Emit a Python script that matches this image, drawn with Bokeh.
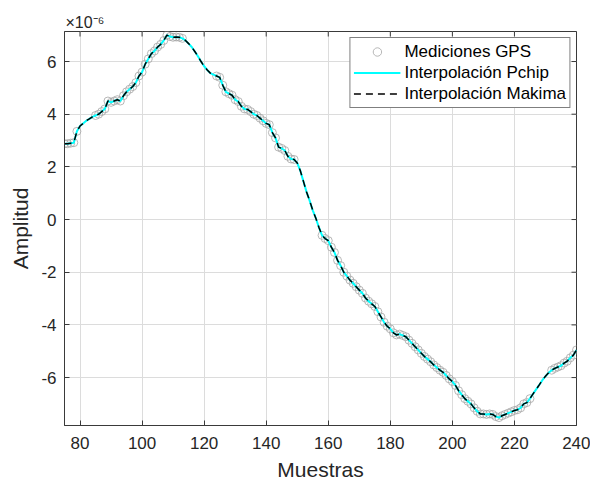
import math
from bokeh.plotting import figure
from bokeh.models import FixedTicker, Range1d, Legend, LegendItem, Title
from bokeh.embed import file_html
from bokeh.resources import INLINE

# ---- data (amplitude in units of 1e-6) ----
muestras_gps = [75, 76, 77, 78, 79,
                85, 86, 87, 88, 89, 90, 91, 92, 93, 94, 95, 96, 97, 98, 99, 100,
                101, 102, 103, 104, 105, 106, 107, 108, 109, 110, 111, 112, 113,
                124, 125, 126, 127, 128, 129, 130, 131, 132, 133, 134, 135, 136, 137,
                138, 139, 140, 141, 142, 143, 144, 145, 146, 147, 148, 149,
                158, 159, 160, 161, 162, 163, 164, 165, 166, 167, 168, 169, 170, 171,
                172, 173, 174, 175, 176, 177, 178, 179, 180, 181, 182, 183, 184, 185,
                186, 187, 188, 189, 190, 191, 192, 193, 194, 195, 196, 197, 198, 199,
                200, 201, 202, 203, 204, 205, 206, 207, 208, 209, 210, 211, 212, 213,
                214, 215, 216, 217, 218, 219, 220, 221, 222, 223, 224, 225,
                232, 233, 234, 235, 236, 237, 238, 239, 240]
amplitud_gps = [2.88, 2.88, 2.90, 2.92, 3.35,
                3.95, 4.00, 4.10, 4.20, 4.50, 4.45, 4.50, 4.55, 4.50, 4.70, 4.85, 4.95, 5.05, 5.20, 5.45, 5.60,
                5.90, 6.10, 6.30, 6.40, 6.55, 6.65, 6.80, 7.00, 6.95, 6.92, 6.93, 6.92, 6.88,
                5.45, 5.40, 5.10, 4.85, 4.78, 4.72, 4.55, 4.48, 4.30, 4.20, 4.18, 4.10, 4.00, 3.95,
                3.85, 3.75, 3.65, 3.60, 3.30, 3.10, 2.75, 2.70, 2.62, 2.40, 2.30, 2.28,
                -0.60, -0.72, -0.80, -1.05, -1.25, -1.55, -1.75, -2.00, -2.15, -2.30, -2.42, -2.55, -2.68, -2.80,
                -2.98, -3.10, -3.20, -3.30, -3.50, -3.70, -3.90, -4.05, -4.15, -4.30, -4.38, -4.35, -4.40, -4.45,
                -4.58, -4.70, -4.83, -4.95, -5.08, -5.20, -5.30, -5.40, -5.52, -5.62, -5.72, -5.80, -5.92, -6.05,
                -6.15, -6.30, -6.50, -6.65, -6.80, -6.90, -7.00, -7.15, -7.28, -7.38, -7.38, -7.40, -7.38, -7.40,
                -7.48, -7.52, -7.45, -7.40, -7.35, -7.30, -7.25, -7.22, -7.15, -7.00, -6.95, -6.80,
                -5.72, -5.65, -5.60, -5.55, -5.45, -5.38, -5.25, -5.15, -4.95]

# interpolated curve values read in the gaps between measurements
muestras_hueco = [80, 81, 82, 83, 84,
                  114, 115, 116, 117, 118, 119, 120, 121, 122, 123,
                  150, 151, 152, 153, 154, 155, 156, 157,
                  226, 227, 228, 229, 230, 231]
amplitud_hueco = [3.55, 3.65, 3.75, 3.82, 3.90,
                  6.80, 6.68, 6.55, 6.38, 6.20, 6.00, 5.82, 5.68, 5.56, 5.50,
                  2.15, 1.85, 1.45, 1.05, 0.72, 0.35, 0.05, -0.30,
                  -6.62, -6.45, -6.28, -6.10, -5.95, -5.82]

x_ticks = [80, 100, 120, 140, 160, 180, 200, 220, 240]
y_ticks = [-6, -4, -2, 0, 2, 4, 6]
y_tick_labels = ["-6", "-4", "-2", "0", "2", "4", "6"]

curva = sorted(zip(muestras_gps + muestras_hueco, amplitud_gps + amplitud_hueco))
curva_x = [c[0] for c in curva]
curva_y = [c[1] for c in curva]

X_MIN, X_MAX = 75, 240
Y_MIN, Y_MAX = -7.82, 7.14

FONT = "Liberation Sans"
TXT = "#262626"
AX = "#3a3a3a"

p = figure(frame_width=512, frame_height=394, output_backend="svg", toolbar_location=None,
           x_range=Range1d(X_MIN, X_MAX), y_range=Range1d(Y_MIN, Y_MAX),
           min_border_left=64, min_border_right=14, min_border_top=31, min_border_bottom=0)
p.background_fill_color = "white"
p.border_fill_color = "white"
p.outline_line_color = AX
p.outline_line_width = 1

# exponent of the y axis
p.add_layout(Title(text="×10⁻⁶", align="left", offset=1, standoff=2,
                   text_font=FONT, text_font_size="16px", text_font_style="normal",
                   text_color=TXT), "above")

for ax in (p.xaxis[0], p.yaxis[0]):
    ax.major_tick_in = 5
    ax.major_tick_out = 0
    ax.minor_tick_line_color = None
    ax.axis_line_color = AX
    ax.major_tick_line_color = AX
    ax.major_label_text_font = FONT
    ax.major_label_text_font_size = "17px"
    ax.major_label_text_color = TXT
    ax.axis_label_text_font = FONT
    ax.axis_label_text_font_size = "21px"
    ax.axis_label_text_font_style = "normal"
    ax.axis_label_text_color = TXT

p.xaxis.ticker = FixedTicker(ticks=x_ticks)
p.yaxis.ticker = FixedTicker(ticks=y_ticks)
p.yaxis.major_label_overrides = {t: l for t, l in zip(y_ticks, y_tick_labels)}
p.xaxis.axis_label = "Muestras"
p.yaxis.axis_label = "Amplitud"
p.xaxis.major_label_standoff = 11
p.xaxis.axis_label_standoff = 6
p.yaxis.major_label_standoff = 8
p.yaxis.axis_label_standoff = 6

p.xgrid.ticker = FixedTicker(ticks=x_ticks)
p.ygrid.ticker = FixedTicker(ticks=y_ticks)
p.grid.grid_line_color = "#dcdcdc"
p.grid.grid_line_width = 1

# tick marks on the top and right edges of the box (half of each dash is clipped)
p.scatter(x_ticks, [Y_MAX] * len(x_ticks), marker="dash", angle=math.pi / 2, size=10,
          line_color=AX, line_width=1)
p.scatter([X_MAX] * len(y_ticks), y_ticks, marker="dash", size=10,
          line_color=AX, line_width=1)

r_gps = p.scatter(muestras_gps, amplitud_gps, marker="circle", size=8,
                  fill_color=None, line_color="#a6a6a6", line_width=0.8)
r_pchip = p.line(curva_x, curva_y, line_color="#00ffff", line_width=2)
r_makima = p.line(curva_x, curva_y, line_color="black", line_width=1.5, line_dash="7 5")

legend = Legend(items=[LegendItem(label="Mediciones GPS", renderers=[r_gps]),
                       LegendItem(label="Interpolación Pchip", renderers=[r_pchip]),
                       LegendItem(label="Interpolación Makima", renderers=[r_makima])],
                location="top_right", margin=6, padding=3, spacing=0,
                glyph_width=47, glyph_height=21, label_standoff=4,
                label_text_font=FONT, label_text_font_size="17px", label_text_color="black",
                border_line_color="black", border_line_width=1,
                background_fill_color="white", background_fill_alpha=1)
p.add_layout(legend, "center")

open("out.html", "w").write(file_html(p, INLINE))
